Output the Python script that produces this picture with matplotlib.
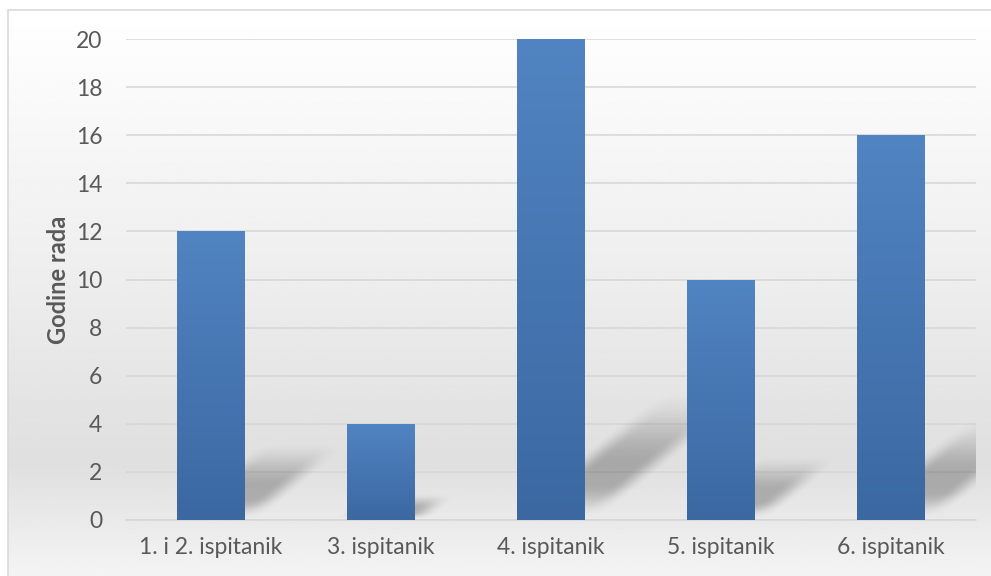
import numpy as np
import matplotlib
matplotlib.use("Agg")
import matplotlib.pyplot as plt
from matplotlib.colors import LinearSegmentedColormap
from matplotlib.patches import Rectangle

# data
categories = ["1. i 2. ispitanik", "3. ispitanik", "4. ispitanik", "5. ispitanik", "6. ispitanik"]
values = [12, 4, 20, 10, 16]
y_ticks = [0, 2, 4, 6, 8, 10, 12, 14, 16, 18, 20]
y_label = "Godine rada"

plt.rcParams['font.family'] = ['Lato', 'DejaVu Sans']
text_col = '#595959'
grid_col = '#d6d6d6'

W, H = 991, 576
fig = plt.figure(figsize=(W / 100, H / 100), dpi=100)
fig.patch.set_facecolor('white')

# background gradient + border (chart area)
bg = fig.add_axes([0, 0, 1, 1], zorder=-1)
bg.axis('off')
stops = [(0.0, 0.955), (0.2, 0.875), (0.52, 0.93), (1.0, 1.0)]  # (from bottom, grey level)
ys = np.linspace(0, 1, 300)
lev = np.interp(ys, [s[0] for s in stops], [s[1] for s in stops])
bg_img = np.repeat(lev[:, None], 2, axis=1)
bx0, by1 = 8 / W, 1 - 10 / H
bg.imshow(bg_img, cmap='gray', vmin=0, vmax=1, origin='lower',
          extent=[bx0, 1, 0, by1], aspect='auto', interpolation='bilinear')
bg.add_patch(Rectangle((bx0, -0.1), 1.2, by1 + 0.1, fill=False,
                       ec='#d9d9d9', lw=1.2))
bg.set_xlim(0, 1)
bg.set_ylim(0, 1)

ax = fig.add_axes([126 / W, 1 - 520 / H, 850 / W, 481 / H])
ax.set_facecolor('none')
x = np.arange(len(categories))
bar_w = 0.4
ax.set_xlim(-0.5, len(categories) - 0.5)
ax.set_ylim(0, 20)

# soft floor shadows behind bars
gx = np.linspace(-0.5, len(categories) - 0.5, 900)
gy = np.linspace(0, 20, 500)
XX, YY = np.meshgrid(gx, gy)
alpha = np.zeros_like(XX)


def smooth(a, b, v):
    t = np.clip((v - a) / (b - a), 0, 1)
    return t * t * (3 - 2 * t)


for xi, v in zip(x, values):
    x0 = xi - bar_w / 2
    dx = 0.043 * v
    dy = 0.25 * v
    t = YY / dy
    u = (XX - x0 - t * dx) / bar_w
    e = 0.22
    a = smooth(-e, e, u) * smooth(-e, e, 1 - u)
    a *= smooth(0, 0.3, t) * smooth(1.1, 0.45, t)
    alpha = np.maximum(alpha, 0.25 * a)

shadow = np.zeros(alpha.shape + (4,))
shadow[..., 3] = alpha
ax.imshow(shadow, origin='lower', extent=[gx[0], gx[-1], 0, 20],
          aspect='auto', zorder=1, interpolation='bilinear')

# bars with vertical gradient
bars = ax.bar(x, values, width=bar_w, color='#4a7bb7', zorder=2)
bar_cmap = LinearSegmentedColormap.from_list('bar', ['#3b68a1', '#4676b2', '#5184c2'])
grad = np.linspace(0, 1, 256)[:, None]
for b, v in zip(bars, values):
    x0 = b.get_x()
    im = ax.imshow(grad, cmap=bar_cmap, origin='lower', aspect='auto',
                   extent=[x0, x0 + b.get_width(), 0, v], zorder=3)
    im.set_clip_path(b)

ax.set_xlim(-0.5, len(categories) - 0.5)
ax.set_ylim(0, 20)

ax.set_yticks(y_ticks)
ax.yaxis.grid(True, color=grid_col, lw=1.1, zorder=0)
ax.set_axisbelow(True)
for s in ['top', 'right', 'left']:
    ax.spines[s].set_visible(False)
ax.spines['bottom'].set_color(grid_col)
ax.spines['bottom'].set_linewidth(1.1)
ax.spines['bottom'].set_zorder(0.5)

ax.set_xticks(x)
ax.set_xticklabels(categories)
ax.tick_params(axis='both', length=0, colors=text_col, labelsize=16.5)
ax.tick_params(axis='y', pad=17)
ax.tick_params(axis='x', pad=12)
ax.set_ylabel(y_label, fontsize=17, fontweight='bold', color=text_col, labelpad=4)

fig.savefig('out.png', dpi=100)
